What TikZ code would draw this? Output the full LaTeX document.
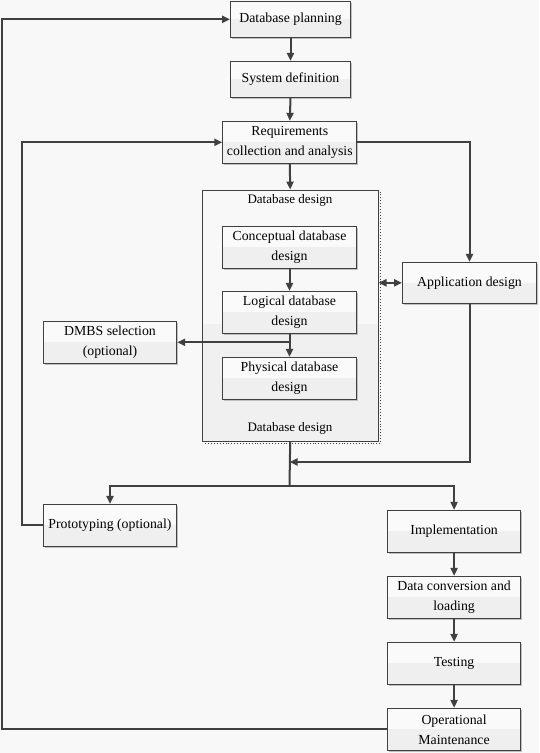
\documentclass[tikz,border=0pt]{standalone}
\usepackage{fontspec}
\setmainfont{Liberation Serif}
\usetikzlibrary{arrows.meta,calc,shadows}
\definecolor{bgc}{HTML}{F8F8F8}
\definecolor{linec}{HTML}{404040}
\definecolor{topc}{HTML}{FAFAFA}
\definecolor{botc}{HTML}{EFEFEF}
\definecolor{contbot}{HTML}{F0F0F0}
\definecolor{shc}{HTML}{C0C0C0}
\begin{document}
\begin{tikzpicture}[x=1pt,y=-1pt,
  box/.style={draw=linec, line width=0.9pt, fill=topc, minimum width=133.4pt, minimum height=42pt,
    inner sep=0pt, align=center, font=\fontsize{13.8}{20}\selectfont,
    path picture={\fill[botc] (path picture bounding box.west) rectangle (path picture bounding box.south east);},
    drop shadow={shadow xshift=1.3pt, shadow yshift=-1.3pt, fill=shc, opacity=1}},
  contbox/.style={draw=linec, line width=0.9pt, fill=bgc, minimum width=175.7pt, minimum height=251pt, inner sep=0pt,
    path picture={\fill[contbot] ([yshift=-8pt]path picture bounding box.west) rectangle (path picture bounding box.south east);}},
  lbl/.style={font=\fontsize{13}{16}\selectfont, inner sep=0pt},
  conn/.style={draw=linec, line width=2pt},
  arr/.style={conn, -{Triangle[length=8pt,width=7pt]}},
  darr/.style={conn, {Triangle[length=8pt,width=7pt]}-{Triangle[length=8pt,width=7pt]}}
]
\fill[bgc] (0,0) rectangle (539,753);
\useasboundingbox (0,0) rectangle (539,753);

% container
\node[contbox] (cont) at (290.2,315.5) {};
\draw[linec, dotted, line width=0.9pt] ([xshift=2pt,yshift=-2pt]cont.north east) -- ([xshift=2pt,yshift=-2pt]cont.south east) -- ([xshift=2pt,yshift=-2pt]cont.south west);
\node[lbl] (dtop) at (290,200.5) {Database design};
\node[lbl] (dbot) at (290,428) {Database design};

% boxes
\node[box, minimum width=120pt, minimum height=36pt] (plan) at (290.5,19.3) {Database planning};
\node[box, minimum width=120pt, minimum height=36pt] (sys) at (290.5,79.3) {System definition};
\node[box, minimum width=134pt] (req) at (289.8,142.3) {Requirements\\collection and analysis};
\node[box, minimum width=134pt] (concept) at (289.5,247.3) {Conceptual database\\design};
\node[box, minimum width=134pt] (logical) at (289.5,312.3) {Logical database\\design};
\node[box, minimum width=134pt] (physical) at (289.5,378.3) {Physical database\\design};
\node[box, minimum width=134pt, minimum height=41pt] (app) at (469.5,282.8) {Application design};
\node[box] (dmbs) at (110,342.3) {DMBS selection\\(optional)};
\node[box] (proto) at (110,525.3) {Prototyping (optional)};
\node[box] (impl) at (454.1,531.3) {Implementation};
\node[box] (conv) at (454.1,597.3) {Data conversion and\\loading};
\node[box] (test) at (454.1,663.3) {Testing};
\node[box] (opm) at (454.1,729.3) {Operational\\Maintenance};

% coordinates
\coordinate (merge) at (289.5,462);
\coordinate (branch) at (289.5,485.7);
\coordinate (loopA) at (22,525.3);
\coordinate (loopB) at (1.7,729.3);

% connectors
\draw[arr] (plan.south) -- (sys.north);
\draw[arr] (sys.south) -- (req.north);
\draw[arr] (req.south) -- (cont.north);
\draw[arr] (concept.south) -- (logical.north);
\draw[arr] (logical.south) -- (physical.north);
\draw[arr] (logical.south |- dmbs.east) -- (dmbs.east);
\draw[darr] (cont.east |- app.west) -- (app.west);
\draw[arr] (req.east) -| (app.north);
\draw[arr] (app.south) |- (merge);
\draw[conn] (cont.south) -- (branch);
\draw[arr] (branch) -| (proto.north);
\draw[arr] (branch) -| (impl.north);
\draw[arr] (proto.west) -- (loopA) |- (req.west);
\draw[arr] (impl.south) -- (conv.north);
\draw[arr] (conv.south) -- (test.north);
\draw[arr] (test.south) -- (opm.north);
\draw[arr] (opm.west) -- (loopB) |- (plan.west);
\end{tikzpicture}
\end{document}
